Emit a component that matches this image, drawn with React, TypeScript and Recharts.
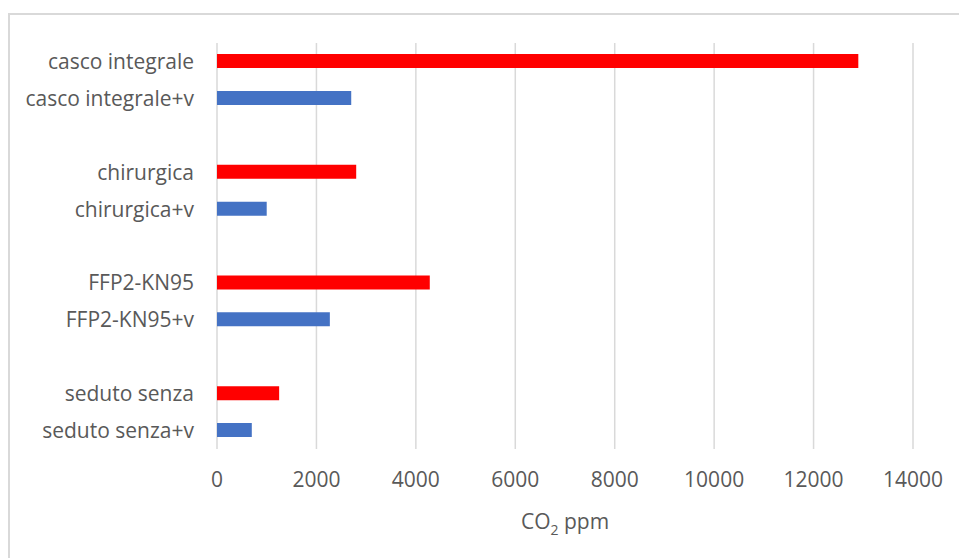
import { Bar, BarChart, CartesianGrid, Label, XAxis, YAxis } from "recharts"

const CATEGORIES = [
    "casco integrale",
    "casco integrale+v",
    " ",
    "chirurgica",
    "chirurgica+v",
    "  ",
    "FFP2-KN95",
    "FFP2-KN95+v",
    "   ",
    "seduto senza",
    "seduto senza+v",
]

// red = without ventilation, blue = with ventilation (+v)
const WITHOUT_V = [12900, null, null, 2800, null, null, 4280, null, null, 1250, null]
const WITH_V = [null, 2700, null, null, 1000, null, null, 2270, null, null, 700]

const X_TICKS = [0, 2000, 4000, 6000, 8000, 10000, 12000, 14000]

const data = CATEGORIES.map((name, i) => ({
    name,
    senza: WITHOUT_V[i],
    conV: WITH_V[i],
}))

const FONT = "'Open Sans', sans-serif"
const TEXT = "#595959"

function AxisTitle(props: any) {
    const vb = props.viewBox || {}
    return (
        <text
            x={vb.x + vb.width / 2}
            y={vb.y + 80}
            textAnchor="middle"
            fill={TEXT}
            fontFamily={FONT}
            fontSize={21}
        >
            CO
            <tspan dy={6} fontSize={14}>2</tspan>
            <tspan dy={-6} fontSize={21}> ppm</tspan>
        </text>
    )
}

export default function App() {
    return (
        <div
            style={{
                position: "absolute",
                left: 8,
                top: 13,
                width: 951,
                height: 545,
                borderTop: "2px solid #d9d9d9",
                borderLeft: "2px solid #d9d9d9",
                boxSizing: "border-box",
                background: "#fff",
                overflow: "hidden",
            }}
        >
            <BarChart
                width={949}
                height={535}
                data={data}
                layout="vertical"
                margin={{ top: 28, right: 46, left: 0, bottom: 41 }}
            >
                <CartesianGrid horizontal={false} stroke="#d9d9d9" strokeWidth={1.5} />
                <XAxis
                    type="number"
                    domain={[0, 14000]}
                    ticks={X_TICKS}
                    axisLine={false}
                    tickLine={false}
                    tickMargin={17}
                    height={60}
                    tick={{ fill: TEXT, fontFamily: FONT, fontSize: 21 }}
                >
                    <Label content={<AxisTitle />} />
                </XAxis>
                <YAxis
                    type="category"
                    dataKey="name"
                    width={207}
                    axisLine={false}
                    tickLine={false}
                    tickMargin={17}
                    interval={0}
                    tick={{ fill: TEXT, fontFamily: FONT, fontSize: 21 }}
                />
                <Bar dataKey="senza" stackId="s" fill="#ff0000" barSize={14} isAnimationActive={false} />
                <Bar dataKey="conV" stackId="s" fill="#4472c4" barSize={14} isAnimationActive={false} />
            </BarChart>
        </div>
    )
}
